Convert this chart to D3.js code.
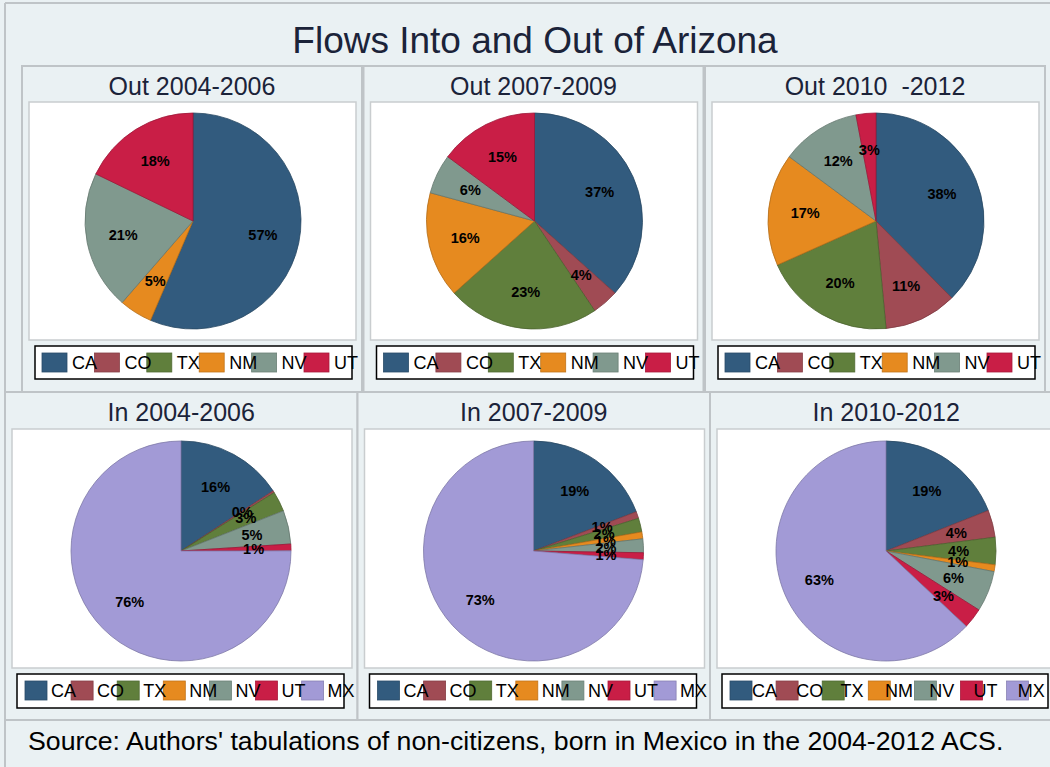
<!DOCTYPE html>
<html>
<head>
<meta charset="utf-8">
<script src="https://cdn.jsdelivr.net/npm/d3@7"></script>
<style>
    body { margin: 0; background: #eaf1f3; }
    svg { display: block; font-family: "Liberation Sans", Arial, sans-serif; }
</style>
</head>
<body>
<svg id="chart" width="1050" height="767"></svg>
<script>
// Categories and shares (percent)
const outStates = ["CA", "CO", "TX", "NM", "NV", "UT"];
const inStates = ["CA", "CO", "TX", "NM", "NV", "UT", "MX"];

const out0406 = [57, 0, 0, 5, 21, 18];
const out0709 = [37, 4, 23, 16, 6, 15];
const out1012 = [38, 11, 20, 17, 12, 3];

const in0406 = [16, 0.3, 3, 0, 5, 1, 76];
const in0709 = [19, 1, 2, 1, 2, 1, 73];
const in1012 = [19, 4, 4, 1, 6, 3, 63];

const outTitles = ["Out 2004-2006", "Out 2007-2009", "Out 2010  -2012"];
const inTitles = ["In 2004-2006", "In 2007-2009", "In 2010-2012"];

const stateColors = ["#325b7e", "#a04b54", "#607f3c", "#e68a1f", "#80998e", "#c91e46", "#a29ad6"];

const svg = d3.select('#chart');
const bg = "#eaf1f3";
const frame = "#bfc4c7";

// outer frame
svg.append('rect').attr('x', 0).attr('y', 0).attr('width', 1050).attr('height', 767).attr('fill', bg);
svg.append('line').attr('x1', 5).attr('x2', 5).attr('y1', 3).attr('y2', 767)
    .attr('stroke', frame).attr('stroke-width', 2);
svg.append('line').attr('x1', 5).attr('x2', 1050).attr('y1', 3).attr('y2', 3)
    .attr('stroke', frame).attr('stroke-width', 2);

// main title
svg.append('text')
    .attr('x', 535).attr('y', 53)
    .attr('text-anchor', 'middle')
    .attr('font-size', 37)
    .attr('fill', '#1b2339')
    .text('Flows Into and Out of Arizona');

function drawPanel(opts) {
    const g = svg.append('g');
    const {x0, y0, w, h, title, cats, values, plot, pie, legend} = opts;

    // panel frame
    g.append('rect')
        .attr('x', x0).attr('y', y0).attr('width', w).attr('height', h)
        .attr('fill', bg).attr('stroke', frame).attr('stroke-width', 2);

    g.append('text')
        .attr('x', x0 + w / 2).attr('y', y0 + 29)
        .attr('text-anchor', 'middle')
        .attr('font-size', 25)
        .attr('fill', '#1b2339')
        .style('white-space', 'pre')
        .text(title);

    // plot region
    g.append('rect')
        .attr('x', plot.x).attr('y', plot.y).attr('width', plot.w).attr('height', plot.h)
        .attr('fill', '#fff').attr('stroke', '#c9cdcf').attr('stroke-width', 1.5);

    const data = cats.map((c, i) => ({state: c, value: values[i], color: stateColors[i]}));
    const arcs = d3.pie().sort(null).value(d => d.value)(data);
    const arc = d3.arc().innerRadius(0).outerRadius(pie.r);
    const labelArc = d3.arc().innerRadius(pie.r * 0.66).outerRadius(pie.r * 0.66);

    const pg = g.append('g').attr('transform', `translate(${pie.cx},${pie.cy})`);
    pg.selectAll('path')
        .data(arcs.filter(d => d.data.value > 0))
        .enter()
        .append('path')
        .attr('d', arc)
        .attr('fill', d => d.data.color)
        .attr('stroke', d => d3.color(d.data.color).darker(0.7))
        .attr('stroke-width', 0.8);

    pg.selectAll('text')
        .data(arcs.filter(d => d.data.value > 0))
        .enter()
        .append('text')
        .attr('transform', d => `translate(${labelArc.centroid(d)})`)
        .attr('text-anchor', 'middle')
        .attr('dy', '0.35em')
        .attr('font-size', 14.5)
        .attr('font-weight', 'bold')
        .attr('fill', '#000')
        .text(d => Math.round(d.data.value) + '%');

    // legend: swatches first, then labels on top (they overlap like the original)
    g.append('rect')
        .attr('x', legend.x).attr('y', legend.y).attr('width', legend.w).attr('height', legend.h)
        .attr('fill', '#fff').attr('stroke', '#000').attr('stroke-width', 1.5);

    const lx = i => legend.x + legend.pad + i * legend.step;
    const tx = i => legend.x + legend.pad + legend.tx + i * (legend.tstep || legend.step);
    g.selectAll('.sw')
        .data(data)
        .enter()
        .append('rect')
        .attr('x', (d, i) => lx(i)).attr('y', legend.y + 7)
        .attr('width', legend.sw).attr('height', 19)
        .attr('fill', d => d.color)
        .attr('stroke', d => d3.color(d.color).darker(0.5))
        .attr('stroke-width', 0.8);
    g.selectAll('.lab')
        .data(data)
        .enter()
        .append('text')
        .attr('x', (d, i) => tx(i)).attr('y', legend.y + 23)
        .attr('font-size', 18)
        .attr('fill', '#000')
        .text(d => d.state);
}

const outValues = [out0406, out0709, out1012];
const inValues = [in0406, in0709, in1012];

outValues.forEach((vals, i) => {
    const x0 = 22 + i * 341.5;
    drawPanel({
        x0: x0, y0: 66, w: 340, h: 326,
        title: outTitles[i], cats: outStates, values: vals,
        plot: {x: x0 + 7, y: 102, w: 327, h: 238},
        pie: {cx: x0 + 171, cy: 221, r: 108},
        legend: {x: x0 + 13, y: 346, w: 317, h: 33, pad: 7, step: 52.4, sw: 25, tx: 30}
    });
});

inValues.forEach((vals, i) => {
    const x0 = 5 + i * 352.5;
    const last = i === 2;
    drawPanel({
        x0: x0, y0: 392, w: 352.5, h: 328,
        title: inTitles[i], cats: inStates, values: vals,
        plot: {x: x0 + 7, y: 429, w: 340, h: 239},
        pie: {cx: x0 + 176, cy: 551, r: 110},
        legend: {x: x0 + 12, y: 674, w: last ? 326 : 327, h: 34, pad: 8, step: 46.1, sw: 22,
                 tx: last ? 22 : 26, tstep: last ? 44.3 : 46.1}
    });
});

// source note
svg.append('text')
    .attr('x', 28).attr('y', 750)
    .attr('font-size', 26.7)
    .attr('fill', '#000')
    .text("Source: Authors' tabulations of non-citizens, born in Mexico in the 2004-2012 ACS.");
</script>
</body>
</html>
